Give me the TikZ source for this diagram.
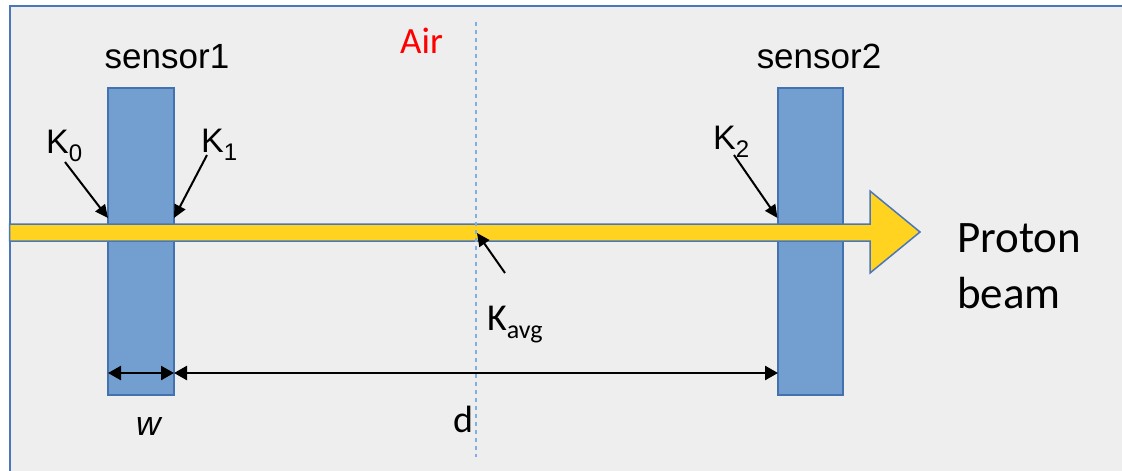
\documentclass[tikz,border=0pt]{standalone}
\usepackage{fontspec}
\setmainfont{Liberation Sans}
\newfontfamily\calfont{Carlito}
\usetikzlibrary{arrows.meta}
\definecolor{bgc}{HTML}{EEEEEE}
\definecolor{framec}{HTML}{4A76BA}
\definecolor{sensfill}{HTML}{729FCF}
\definecolor{sensdraw}{HTML}{4472B0}
\definecolor{beamc}{HTML}{FFD320}
\definecolor{dashc}{HTML}{7FAFE0}
\tikzset{
  sensorbox/.style={draw=sensdraw, fill=sensfill, line width=1.5pt, minimum width=66pt, minimum height=307pt, inner sep=0pt},
  lbl/.style={inner sep=0pt, font=\fontsize{35}{40}\selectfont},
  clbl/.style={inner sep=0pt, font=\calfont\fontsize{38}{44}\selectfont},
  pointer/.style={-{Triangle[length=13pt,width=12pt]}, line width=2pt, black},
  dimline/.style={{Triangle[length=13pt,width=14pt]}-{Triangle[length=13pt,width=14pt]}, line width=2.5pt, black},
}
\newcommand{\ksub}[1]{\raisebox{-8pt}{\fontsize{24}{24}\selectfont #1}}
\begin{document}
\begin{tikzpicture}[x=1pt,y=-1pt]
\useasboundingbox (0,0) rectangle (1122,471);
% frame
\path[fill=bgc, draw=framec, line width=2pt] (9.5,6) rectangle (1140,490);
% sensors
\node[sensorbox] (s1) at (141,241.5) {};
\node[sensorbox, minimum width=65pt] (s2) at (810.5,241.5) {};
% beam
\path[fill=beamc, draw=framec, line width=1.5pt]
  (9.5,224) -- (870,224) -- (870,191) -- (920,232) -- (870,273) -- (870,241) -- (9.5,241) -- cycle;
% dashed mid line
\coordinate (mtop) at (476,22);
\coordinate (mbot) at (476,457);
\draw[dashc, line width=1.5pt, dash pattern=on 4pt off 4pt] (mtop) -- (mbot);
% labels
\node[lbl, anchor=base] (l1) at (167,68) {sensor1};
\node[lbl, anchor=base] (l2) at (819,68) {sensor2};
\node[clbl, anchor=base west, text=red, font=\calfont\fontsize{37}{44}\selectfont] (air) at (400,53) {Air};
\node[lbl, anchor=base west, font=\fontsize{34}{38}\selectfont] (k0) at (46,153) {K\ksub{0}};
\node[lbl, anchor=base west, font=\fontsize{34}{38}\selectfont] (k1) at (201,152) {K\ksub{1}};
\node[lbl, anchor=base west, font=\fontsize{34}{38}\selectfont] (k2) at (713,149) {K\ksub{2}};
\node[clbl, anchor=base west] (kavg) at (487,330) {K\raisebox{-8pt}{\fontsize{26}{26}\selectfont avg}};
\node[clbl, anchor=base west] (dlbl) at (453,432) {d};
\node[lbl, anchor=base west, font=\itshape\fontsize{34}{38}\selectfont] (wlbl) at (136,435) {w};
\node[inner sep=0pt, anchor=base west, align=left, font=\calfont\fontsize{45}{56}\selectfont] (pb) at (957,308) {Proton\\beam};
% pointer arrows
\coordinate (k0a) at (65,162);  \coordinate (k0b) at (108,218);
\coordinate (k1a) at (207,155); \coordinate (k1b) at (174,218);
\coordinate (k2a) at (734,155); \coordinate (k2b) at (777.5,218);
\coordinate (kva) at (505,273); \coordinate (kvb) at (477,233);
\draw[pointer] (k0a) -- (k0b);
\draw[pointer] (k1a) -- (k1b);
\draw[pointer] (k2a) -- (k2b);
\draw[pointer] (kva) -- (kvb);
% dimensions
\coordinate (w1) at (108,373);
\coordinate (w2) at (174,373);
\coordinate (d2) at (778,373);
\draw[dimline] (w1) -- (w2);
\draw[dimline] (w2) -- (d2);
\end{tikzpicture}
\end{document}
